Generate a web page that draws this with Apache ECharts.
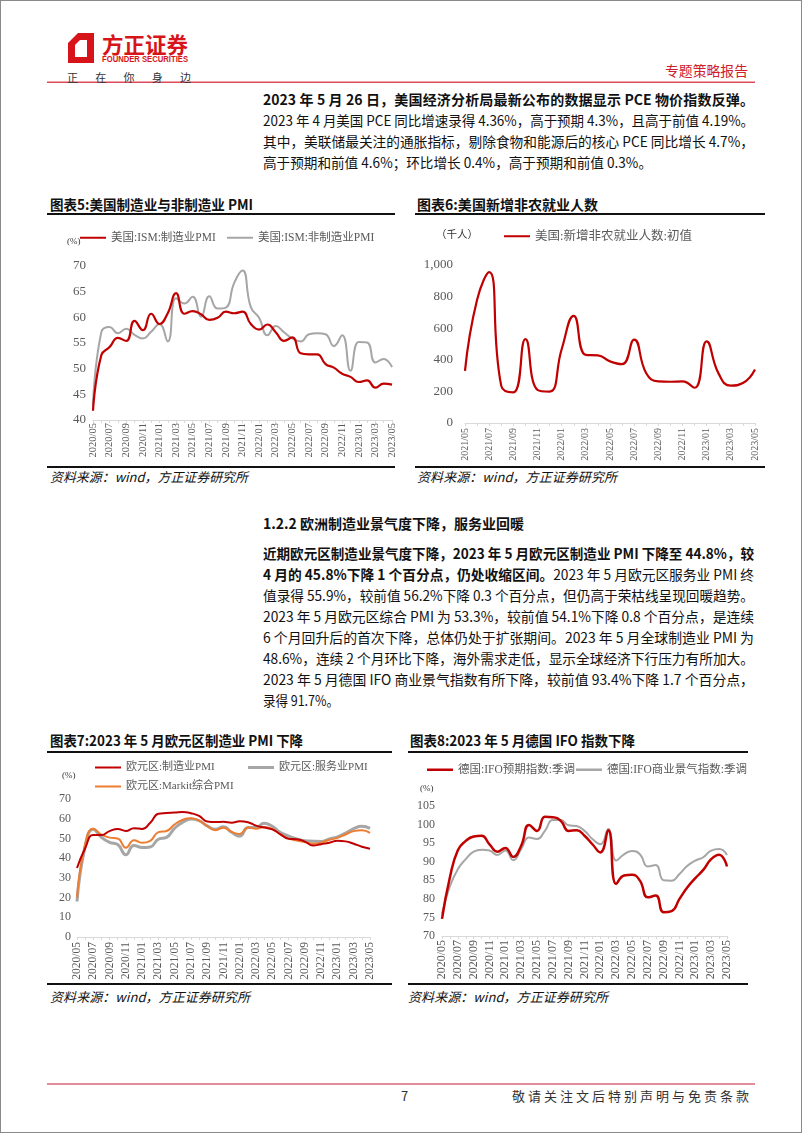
<!DOCTYPE html>
<html><head><meta charset="utf-8">
<script src="https://cdn.jsdelivr.net/npm/echarts@6/dist/echarts.min.js"></script>
<style>
html,body{margin:0;padding:0;background:#fff;}
body{width:802px;height:1133px;position:relative;overflow:hidden;font-family:"Noto Sans CJK SC",sans-serif;color:#111;}
.frame{position:absolute;left:0;top:0;width:802px;height:1133px;box-sizing:border-box;border:1px solid #8a8a8a;}
.t{position:absolute;line-height:20px;height:20px;}
.p{left:263px;font-size:14px;font-family:"Liberation Sans Narrow","Noto Sans CJK SC",sans-serif;color:#111;}
.j{text-align:justify;text-align-last:justify;}
.ttl{font-size:14px;font-weight:bold;}
.src{font-size:13px;font-style:italic;}
.rule{position:absolute;height:2px;background:#111;}
.chart{position:absolute;}
</style></head>
<body>
<div class="frame"></div>

<!-- header -->
<svg style="position:absolute;left:0;top:0" width="802" height="90">
  <polygon points="68,63 68,43 78,33 94,33 94,63" fill="#d7141a"/>
  <polygon points="75,57 75,45 80,40 87,40 87,57" fill="#fff"/>
  <polygon points="68,43 78,33 82,33 72,43" fill="#fff" opacity="0.0"/>
  <rect x="47" y="81.5" width="708" height="1.5" fill="#dd4a5a"/>
</svg>
<div class="t" data-w="86" style="left:102px;top:30px;height:26px;line-height:26px;font-size:22px;font-weight:bold;color:#d7141a;">方正证券</div>
<div class="t" data-w="86" style="left:102px;top:54px;height:10px;line-height:10px;font-size:8.5px;font-weight:bold;color:#d7141a;font-family:'Liberation Sans',sans-serif;">FOUNDER SECURITIES</div>
<div class="t" style="left:67px;top:67px;width:124px;font-size:11px;color:#333;display:flex;justify-content:space-between;"><span>正</span><span>在</span><span>你</span><span>身</span><span>边</span></div>
<div class="t" data-w="83" style="left:665px;top:60px;font-size:14px;color:#d0202e;">专题策略报告</div>

<!-- paragraph 1 -->
<div class="t p j" data-w="491" style="top:89px;font-weight:bold;">2023 年 5 月 26 日，美国经济分析局最新公布的数据显示 PCE 物价指数反弹。</div>
<div class="t p j" data-w="491" style="top:110px;">2023 年 4 月美国 PCE 同比增速录得 4.36%，高于预期 4.3%，且高于前值 4.19%。</div>
<div class="t p j" data-w="491" style="top:131px;">其中，美联储最关注的通胀指标，剔除食物和能源后的核心 PCE 同比增长 4.7%，</div>
<div class="t p" data-w="389" style="top:152px;">高于预期和前值 4.6%；环比增长 0.4%，高于预期和前值 0.3%。</div>

<!-- chart 5 / 6 frames -->
<div class="t ttl" data-w="203" style="left:50px;top:194px;">图表5:美国制造业与非制造业 PMI</div>
<div class="rule" style="left:47px;top:213px;width:348px;"></div>
<div class="rule" style="left:47px;top:466px;width:348px;"></div>
<div class="t src" data-w="198" style="left:50px;top:467px;">资料来源：wind，方正证券研究所</div>

<div class="t ttl" data-w="181" style="left:417px;top:194px;">图表6:美国新增非农就业人数</div>
<div class="rule" style="left:415px;top:213px;width:350px;"></div>
<div class="rule" style="left:415px;top:466px;width:350px;"></div>
<div class="t src" data-w="200" style="left:417px;top:467px;">资料来源：wind，方正证券研究所</div>

<!-- section 1.2.2 -->
<div class="t p" data-w="261" style="top:513px;font-weight:bold;">1.2.2 欧洲制造业景气度下降，服务业回暖</div>
<div class="t p j" data-w="491" style="top:543px;font-weight:bold;">近期欧元区制造业景气度下降，2023 年 5 月欧元区制造业 PMI 下降至 44.8%，较</div>
<div class="t p j" data-w="491" style="top:564px;"><b>4 月的 45.8%下降 1 个百分点，仍处收缩区间。</b>2023 年 5 月欧元区服务业 PMI 终</div>
<div class="t p j" data-w="491" style="top:585px;">值录得 55.9%，较前值 56.2%下降 0.3 个百分点，但仍高于荣枯线呈现回暖趋势。</div>
<div class="t p j" data-w="491" style="top:606px;">2023 年 5 月欧元区综合 PMI 为 53.3%，较前值 54.1%下降 0.8 个百分点，是连续</div>
<div class="t p j" data-w="491" style="top:627px;">6 个月回升后的首次下降，总体仍处于扩张期间。2023 年 5 月全球制造业 PMI 为</div>
<div class="t p j" data-w="491" style="top:648px;">48.6%，连续 2 个月环比下降，海外需求走低，显示全球经济下行压力有所加大。</div>
<div class="t p j" data-w="491" style="top:669px;">2023 年 5 月德国 IFO 商业景气指数有所下降，较前值 93.4%下降 1.7 个百分点，</div>
<div class="t p" data-w="76" style="top:690px;">录得 91.7%。</div>

<!-- chart 7 / 8 frames -->
<div class="t ttl" data-w="253" style="left:50px;top:730px;">图表7:2023 年 5 月欧元区制造业 PMI 下降</div>
<div class="rule" style="left:47px;top:751px;width:345px;"></div>
<div class="rule" style="left:47px;top:983px;width:345px;"></div>
<div class="t src" data-w="200" style="left:50px;top:987px;">资料来源：wind，方正证券研究所</div>

<div class="t ttl" data-w="225" style="left:410px;top:730px;">图表8:2023 年 5 月德国 IFO 指数下降</div>
<div class="rule" style="left:408px;top:751px;width:340px;"></div>
<div class="rule" style="left:408px;top:983px;width:340px;"></div>
<div class="t src" data-w="200" style="left:408px;top:987px;">资料来源：wind，方正证券研究所</div>

<!-- footer -->
<div style="position:absolute;left:47px;top:1083px;width:708px;height:1.5px;background:#e38d9b;"></div>
<div class="t" style="left:401px;top:1086px;font-size:13px;color:#333;">7</div>
<div class="t" data-w="237" style="left:512px;top:1086px;font-size:13px;color:#333;">敬请关注文后特别声明与免责条款</div>

<div id="c5" class="chart" style="left:47px;top:218px;width:350px;height:247px;"></div>
<div id="c6" class="chart" style="left:417px;top:218px;width:350px;height:247px;"></div>
<div id="c7" class="chart" style="left:47px;top:757px;width:350px;height:225px;"></div>
<div id="c8" class="chart" style="left:407px;top:757px;width:350px;height:225px;"></div>

<script>
// ---------- data ----------
const months2020 = ['2020/05','2020/06','2020/07','2020/08','2020/09','2020/10','2020/11','2020/12',
  '2021/01','2021/02','2021/03','2021/04','2021/05','2021/06','2021/07','2021/08','2021/09','2021/10','2021/11','2021/12',
  '2022/01','2022/02','2022/03','2022/04','2022/05','2022/06','2022/07','2022/08','2022/09','2022/10','2022/11','2022/12',
  '2023/01','2023/02','2023/03','2023/04','2023/05'];
const months2021 = ['2021/05','2021/06','2021/07','2021/08','2021/09','2021/10','2021/11','2021/12',
  '2022/01','2022/02','2022/03','2022/04','2022/05','2022/06','2022/07','2022/08','2022/09','2022/10','2022/11','2022/12',
  '2023/01','2023/02','2023/03','2023/04','2023/05'];

const ismMfg = [41.8,52.6,54.2,56.0,55.4,59.3,57.5,60.7,58.7,60.8,64.7,60.7,61.2,60.6,59.5,59.9,61.1,60.8,61.1,58.7,
  57.6,58.6,57.1,55.4,56.1,53.0,52.8,52.8,50.9,50.2,49.0,48.4,47.4,47.7,46.3,47.1,46.9];
const ismSvc = [42.8,57.1,58.1,56.9,57.8,56.6,55.9,57.2,58.7,55.3,63.7,62.7,64.0,60.1,64.1,61.7,61.9,66.7,69.1,62.0,
  59.9,56.5,58.3,57.1,55.9,55.3,56.7,56.9,56.7,54.4,56.5,49.6,55.2,55.1,51.2,51.9,50.3];

const nfp = [330,780,955,235,194,531,210,199,467,678,431,428,390,372,528,315,263,261,263,223,517,311,236,253,339];

const euMfg = [35,45,51.8,51.7,53.7,54.8,53.8,55.2,54.8,57.9,62.5,62.9,63.1,63.4,62.8,61.4,58.6,58.3,58.4,58.0,
  58.7,58.2,56.5,55.5,54.6,52.1,49.8,49.6,48.4,46.4,47.1,47.8,48.8,48.5,47.3,45.8,44.8];
const euSvc = [18,46,54.7,50.5,48.0,46.9,41.7,46.4,45.4,45.7,49.6,50.5,55.2,58.3,59.8,59.0,56.4,54.6,55.9,53.1,
  51.1,55.5,55.6,57.7,56.1,53.0,51.2,49.8,48.8,48.6,48.5,49.8,50.8,52.7,55.0,56.2,55.1];
const euComp = [20,47,54.9,51.9,50.4,50.0,45.3,49.1,47.8,48.8,53.2,53.8,57.1,59.5,60.2,59.0,56.2,54.2,55.4,53.3,
  52.3,55.5,54.9,55.8,54.8,52.0,49.9,48.9,48.1,47.3,47.8,49.3,50.3,52.0,53.7,54.1,52.8];

const ifoExp = [74.6,85.8,93.1,95.6,96.8,97.0,94.7,92.7,93.7,91.3,94.3,99.9,98.3,102.1,102.0,101.0,98.3,98.5,97.0,94.7,
  92.5,98.5,84.0,86.3,86.5,84.9,80.4,80.9,76.4,76.7,80.0,83.1,85.6,87.8,90.7,91.9,88.7];
const ifoClim = [76.0,83.4,88.0,90.7,92.7,93.2,93.0,91.8,93.0,90.4,93.4,96.5,96.1,98.3,101.2,101.2,99.8,99.6,98.3,96.1,
  94.7,98.8,90.3,92.0,92.9,92.0,88.7,89.1,85.0,84.9,86.7,88.9,90.3,91.2,93.0,93.4,91.8];

// ---------- text fitting ----------
document.querySelectorAll('[data-w]').forEach(el => {
  const target = +el.dataset.w;
  const just = el.classList.contains('j');
  el.style.width = 'auto';
  el.style.whiteSpace = 'nowrap';
  const w = el.getBoundingClientRect().width;
  if (w > target) {
    el.classList.remove('j');
    el.style.transformOrigin = '0 50%';
    el.style.transform = 'scaleX(' + (target / w) + ')';
  } else if (just) {
    el.style.width = target + 'px';
    el.style.whiteSpace = 'normal';
  } else {
    const n = el.textContent.length;
    el.style.letterSpacing = ((target - w) / Math.max(1, n - 1)) + 'px';
  }
});

// ---------- charts ----------
const SERIF = "'Liberation Serif','Noto Sans CJK SC',serif";
const GRAYTXT = '#595959';
function xAxis(cats, fs, margin) {
  return { type: 'category', data: cats, boundaryGap: false,
    axisLine: { show: true, lineStyle: { color: '#d9d9d9', width: 1 } },
    axisTick: { show: true, interval: 0, length: 3, lineStyle: { color: '#d9d9d9' } },
    axisLabel: { interval: 1, rotate: 90, fontSize: fs, color: GRAYTXT, fontFamily: SERIF, margin: margin },
    splitLine: { show: false } };
}
function yAxis(min, max, interval, fs, margin, fmt) {
  return { type: 'value', min: min, max: max, interval: interval,
    axisLine: { show: false }, axisTick: { show: false }, splitLine: { show: false },
    axisLabel: { fontSize: fs, color: GRAYTXT, fontFamily: SERIF, margin: margin, formatter: fmt } };
}
function legend(name, left, top, fs, h) {
  return { data: [{ name: name }], left: left, top: top, padding: 0, icon: 'rect', itemWidth: 26, itemHeight: h,
    itemGap: 0, selectedMode: false, textStyle: { fontSize: fs, color: GRAYTXT, fontFamily: SERIF } };
}
function line(name, data, color, width, z) {
  return { name: name, type: 'line', data: data, smooth: true, symbol: 'none', z: z,
    lineStyle: { color: color, width: width }, itemStyle: { color: color } };
}
function pct(left, top, fs) {
  return { type: 'text', left: left, top: top, style: { text: '(%)', fontSize: fs, fill: '#333', fontFamily: SERIF } };
}
const RED = '#c00000', GRAY = '#a6a6a6', ORANGE = '#ed7d31';

const c5 = echarts.init(document.getElementById('c5'), null, { renderer: 'canvas' });
c5.setOption({
  animation: false,
  grid: { left: 46, right: 5, top: 48, bottom: 45, outerBoundsMode: 'none' },
  xAxis: xAxis(months2020, 10.5, 3),
  yAxis: yAxis(40, 70, 5, 13, 7),
  legend: [legend('美国:ISM:制造业PMI', 33, 14, 11.5, 2), legend('美国:ISM:非制造业PMI', 180, 14, 11.5, 2)],
  graphic: [pct(20, 19, 9)],
  series: [line('美国:ISM:非制造业PMI', ismSvc, GRAY, 2, 2), line('美国:ISM:制造业PMI', ismMfg, RED, 2.2, 3)]
});

const c6 = echarts.init(document.getElementById('c6'), null, { renderer: 'canvas' });
c6.setOption({
  animation: false,
  grid: { left: 48, right: 12, top: 47, bottom: 42, outerBoundsMode: 'none' },
  xAxis: xAxis(months2021, 10, 5),
  yAxis: yAxis(0, 1000, 200, 13, 12, v => v.toLocaleString('en-US')),
  legend: [legend('美国:新增非农就业人数:初值', 87, 12, 12.5, 2)],
  graphic: [{ type: 'text', left: 19, top: 12, style: { text: '（千人）', fontSize: 10.5, fill: '#333', fontFamily: SERIF } }],
  series: [line('美国:新增非农就业人数:初值', nfp, RED, 2.2, 3)]
});

const c7 = echarts.init(document.getElementById('c7'), null, { renderer: 'canvas' });
c7.setOption({
  animation: false,
  grid: { left: 30, right: 27, top: 42, bottom: 45, outerBoundsMode: 'none' },
  xAxis: xAxis(months2020, 11.5, 5),
  yAxis: yAxis(0, 70, 10, 12, 6),
  legend: [legend('欧元区:制造业PMI', 48, 5, 11, 2), legend('欧元区:服务业PMI', 201, 5, 11, 3),
           legend('欧元区:Markit综合PMI', 48, 24, 11, 2)],
  graphic: [pct(15, 14, 9)],
  series: [line('欧元区:服务业PMI', euSvc, GRAY, 3, 1), line('欧元区:制造业PMI', euMfg, RED, 2, 3),
           line('欧元区:Markit综合PMI', euComp, ORANGE, 2, 2)]
});

const c8 = echarts.init(document.getElementById('c8'), null, { renderer: 'canvas' });
c8.setOption({
  animation: false,
  grid: { left: 35, right: 30, top: 49, bottom: 46, outerBoundsMode: 'none' },
  xAxis: xAxis(months2020, 12, 4),
  yAxis: yAxis(70, 105, 5, 12, 7),
  legend: [legend('德国:IFO预期指数:季调', 20, 7, 11.5, 2.5), legend('德国:IFO商业景气指数:季调', 169, 7, 11.5, 2.5)],
  graphic: [pct(13, 27, 9)],
  series: [line('德国:IFO商业景气指数:季调', ifoClim, GRAY, 2, 2), line('德国:IFO预期指数:季调', ifoExp, RED, 2.5, 3)]
});
</script>
</body></html>
